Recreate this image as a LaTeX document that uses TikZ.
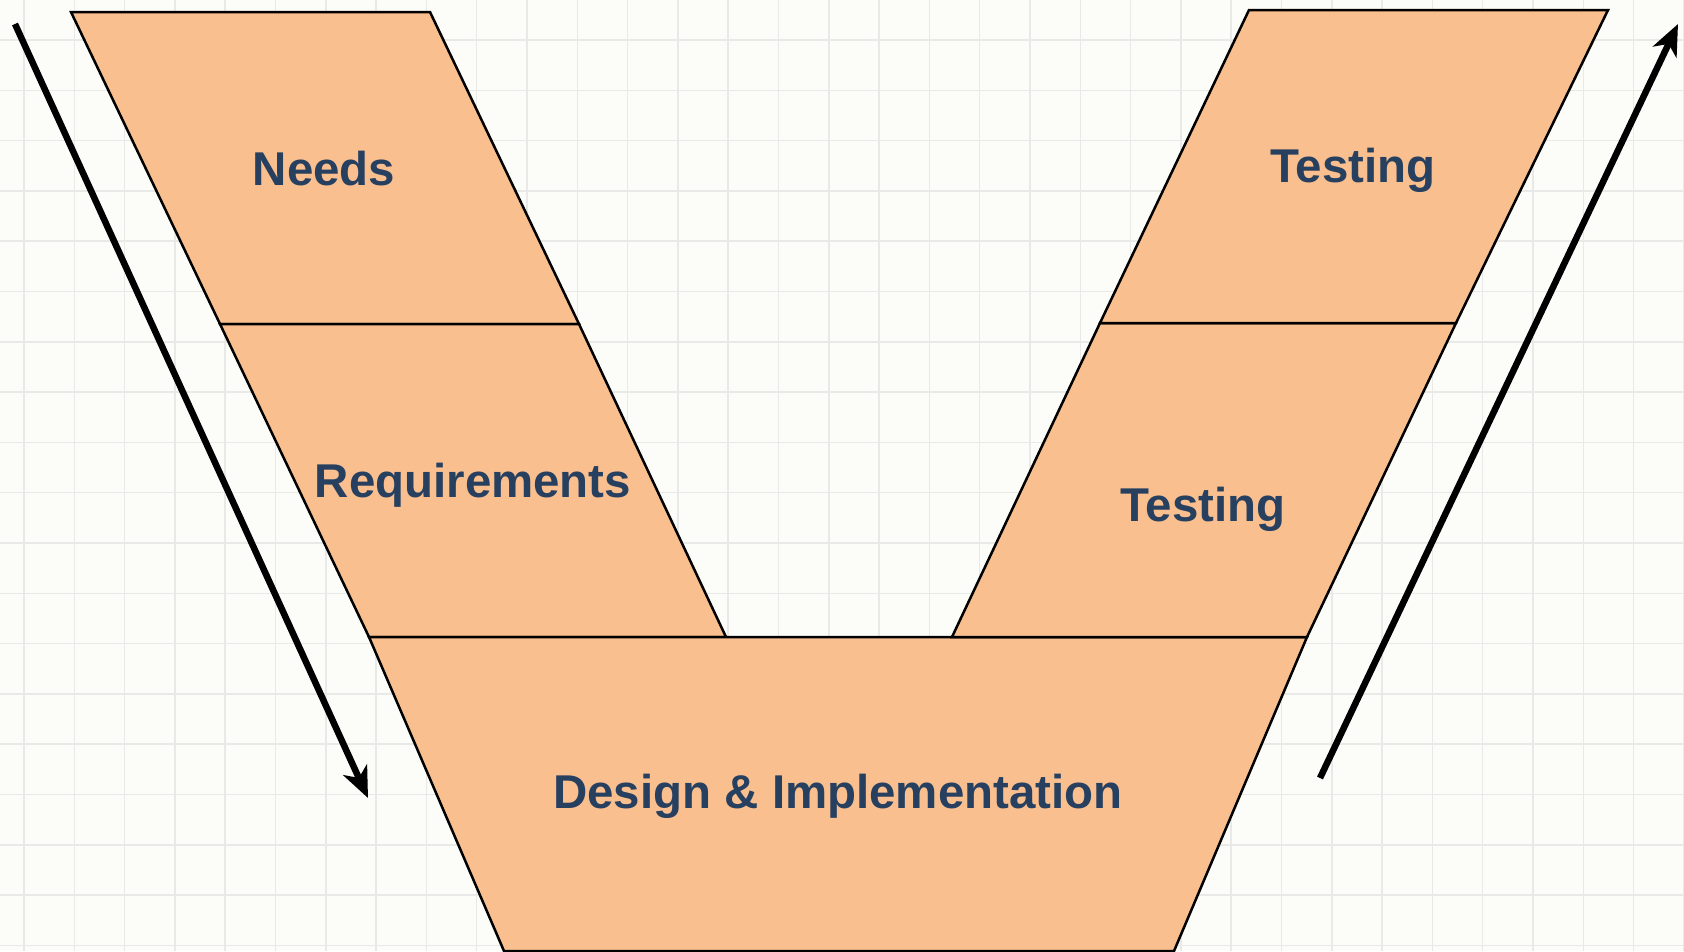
\documentclass[tikz,border=0pt]{standalone}
\usepackage{fontspec}
\setmainfont{Liberation Sans}
\usetikzlibrary{arrows.meta}
\definecolor{paper}{RGB}{252,252,249}
\definecolor{gridgray}{RGB}{233,233,231}
\definecolor{stagefill}{RGB}{249,191,143}
\definecolor{navy}{RGB}{40,64,96}
\tikzset{stage/.style={draw=black, fill=stagefill, line width=0.05cm, line join=miter},
	phase/.style={text=navy, anchor=base, inner sep=0pt, font=\fontsize{27}{32}\selectfont\bfseries},
	flow/.style={line width=0.13cm, -{Stealth[length=0.62cm, width=0.52cm, inset=0.18cm]}},
	gridline/.style={draw=gridgray, line width=0.03cm}}

\begin{document}
\begin{tikzpicture}[x=0.02cm, y=-0.02cm]
				\useasboundingbox (0,0) rectangle (1684,951);
				\fill[paper] (0,0) rectangle (1684,951);
				\foreach \i in {0,...,33}
					\draw[gridline] ({24+50.3*\i},0) -- ({24+50.3*\i},951);
				\foreach \j in {0,...,18}
					\draw[gridline] (0,{40+50.3*\j}) -- (1684,{40+50.3*\j});

				% corners of the V
				\coordinate (n1) at (71,12);
				\coordinate (n2) at (430,12);
				\coordinate (n3) at (579,324);
				\coordinate (n4) at (220,324);
				\coordinate (r3) at (726,637);
				\coordinate (r4) at (369,637);
				\coordinate (d2) at (1307,637);
				\coordinate (d3) at (1174,951);
				\coordinate (d4) at (504,951);
				\coordinate (t1) at (1100,323);
				\coordinate (t2) at (1456,323);
				\coordinate (t4) at (952,637);
				\coordinate (u1) at (1249,10);
				\coordinate (u2) at (1608,10);

				\draw[stage] (n1) -- (n2) -- (n3) -- (n4) -- cycle;
				\draw[stage] (n4) -- (n3) -- (r3) -- (r4) -- cycle;
				\draw[stage] (r4) -- (d2) -- (d3) -- (d4) -- cycle;
				\draw[stage] (t1) -- (t2) -- (d2) -- (t4) -- cycle;
				\draw[stage] (u1) -- (u2) -- (t2) -- (t1) -- cycle;

				\node[phase] (needs) at (324,185) {Needs};
				\node[phase] (reqs) at (473,497) {Requirements};
				\node[phase] (design) at (838,808) {Design \& Implementation};
				\node[phase] (testlow) at (1203,521) {Testing};
				\node[phase] (testtop) at (1353,182) {Testing};

				% side arrows
				\coordinate (down1) at (15,24);
				\coordinate (down2) at (368,798);
				\coordinate (up1) at (1320,778);
				\coordinate (up2) at (1678,24);
				\draw[flow] (down1) -- (down2);
				\draw[flow] (up1) -- (up2);

			\end{tikzpicture}
\end{document}
